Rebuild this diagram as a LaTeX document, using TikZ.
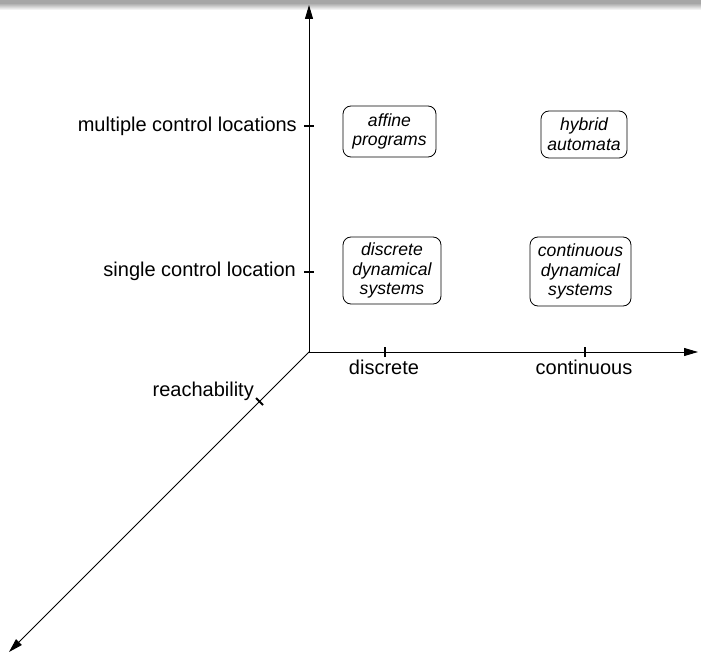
\documentclass[tikz,border=0pt]{standalone}
\usepackage{fontspec}
\setmainfont{Liberation Sans}
\usetikzlibrary{arrows.meta}
\begin{document}
\begin{tikzpicture}[x=1pt,y=-1pt,
  axis/.style={line width=0.9pt,-{Triangle[length=14pt,width=8pt]}},
  tick/.style={line width=2pt},
  axlabel/.style={font=\fontsize{20}{23}\selectfont,inner sep=0pt},
  classbox/.style={draw,line width=0.8pt,rounded corners=8pt,align=center,
    font=\fontsize{17.6}{19.8}\selectfont\itshape,inner xsep=3pt,inner ysep=3pt}]
  \useasboundingbox (0,0) rectangle (701,655);
  % header band
  \fill[gray!70] (0,0) rectangle (701,4.5);
  \shade[top color=gray!55,bottom color=white] (0,4.5) rectangle (701,10);
  % axes
  \coordinate (o) at (309,352);
  \coordinate (ytop) at (309,5);
  \coordinate (xend) at (698,352);
  \coordinate (zend) at (9,652);
  \draw[axis] (o) -- (ytop);
  \draw[axis] (o) -- (xend);
  \draw[axis] (o) -- (zend);
  % ticks on the vertical axis
  \coordinate (ym) at (309,126);
  \coordinate (ys) at (309,272);
  \draw[tick] ([xshift=-5pt]ym) -- ([xshift=5pt]ym);
  \draw[tick] ([xshift=-5pt]ys) -- ([xshift=5pt]ys);
  \node[axlabel,anchor=east] (lm) at (297,126) {multiple control locations};
  \node[axlabel,anchor=east] (ls) at (296,271) {single control location};
  % ticks on the horizontal axis
  \coordinate (xd) at (385,352);
  \coordinate (xc) at (585,352);
  \draw[tick] ([yshift=-5pt]xd) -- ([yshift=5pt]xd);
  \draw[tick] ([yshift=-5pt]xc) -- ([yshift=5pt]xc);
  \node[axlabel] (ld) at (384,367) {discrete};
  \node[axlabel] (lc) at (584,367) {continuous};
  % tick on the diagonal axis, across the line
  \coordinate (zr) at (259.5,401.5);
  \draw[tick] ([shift={(-3.5pt,3.5pt)}]zr) -- ([shift={(3.5pt,-3.5pt)}]zr);
  \node[axlabel,anchor=east] (lr) at (254,391) {reachability};
  % model classes
  \node[classbox,minimum width=93pt,minimum height=51pt] (ap) at (389.5,131.5) {affine\\programs};
  \node[classbox,minimum width=86pt,minimum height=47pt] (ha) at (584,134.5) {hybrid\\automata};
  \node[classbox,minimum width=98pt,minimum height=67pt] (dds) at (392,270.5) {discrete\\dynamical\\systems};
  \node[classbox,minimum width=101pt,minimum height=69pt] (cds) at (580.5,271.5) {continuous\\dynamical\\systems};
\end{tikzpicture}
\end{document}
